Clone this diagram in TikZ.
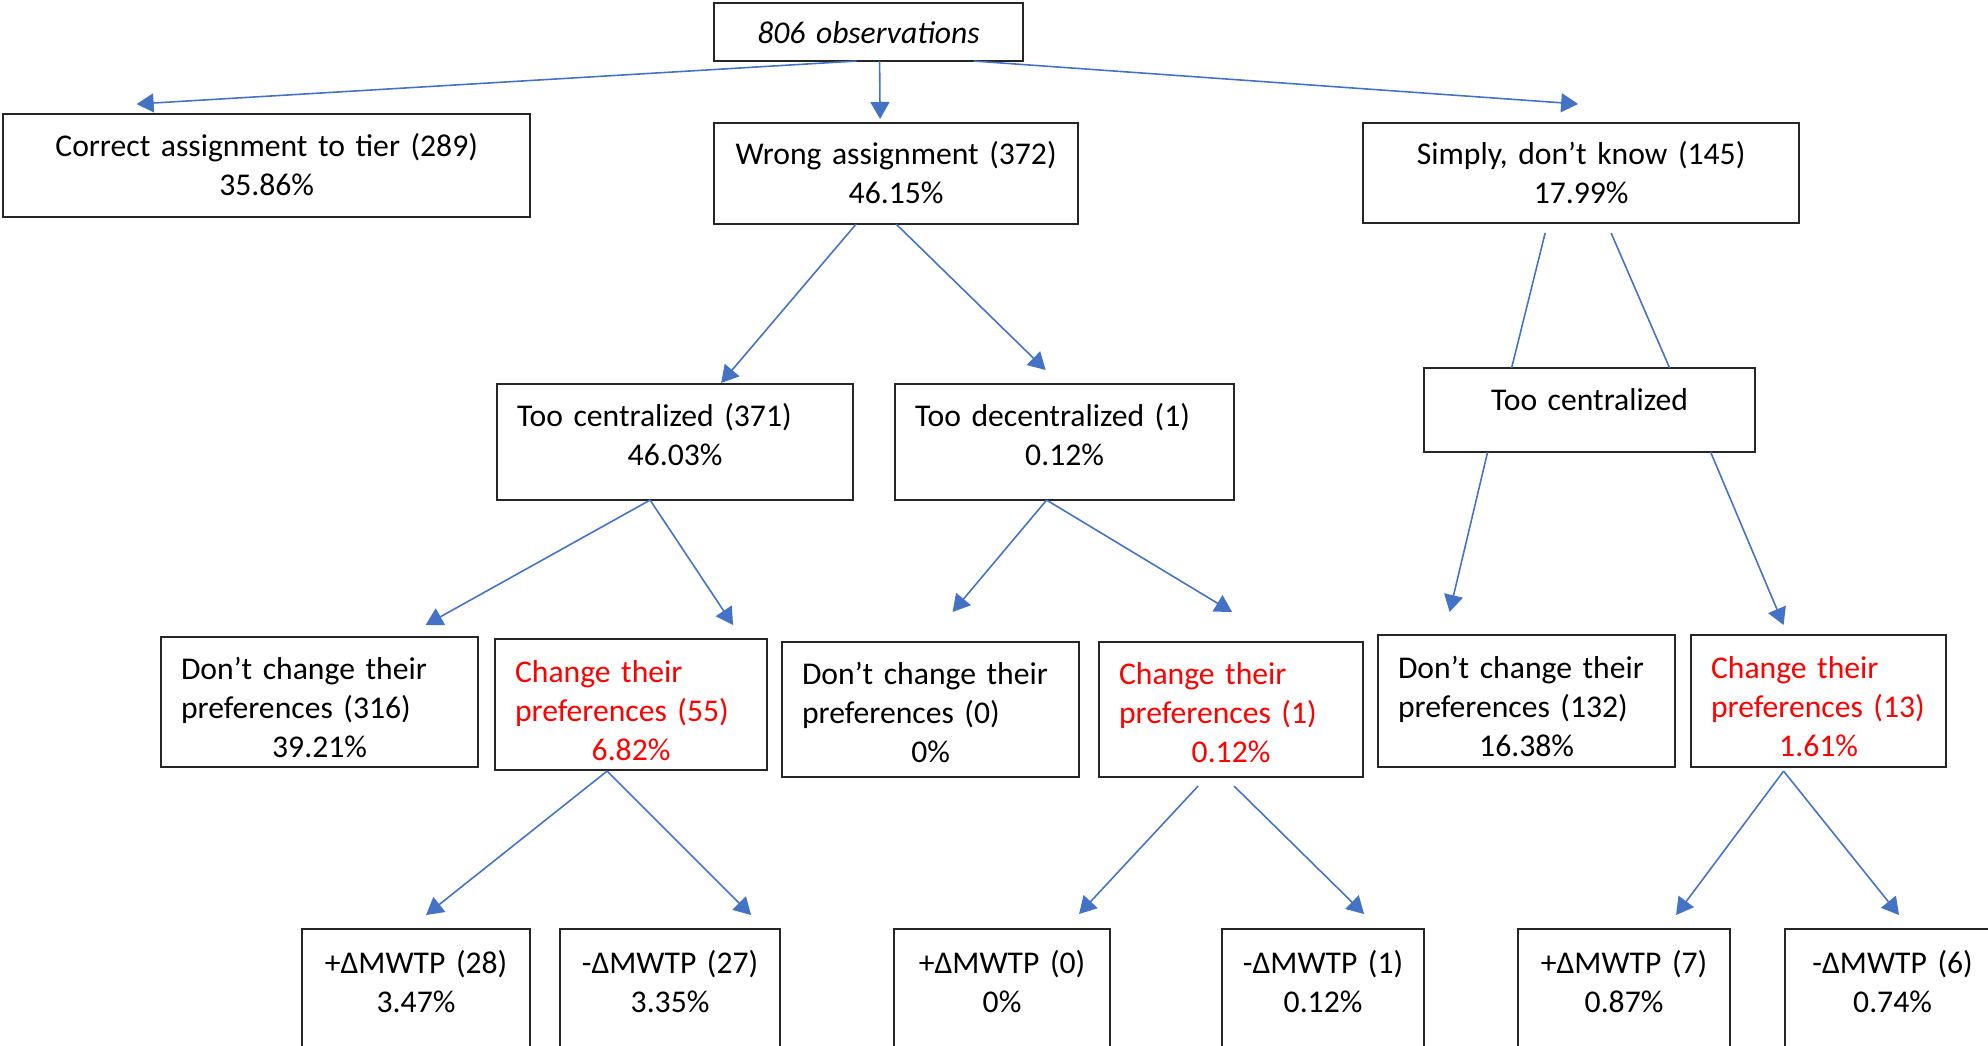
\documentclass[tikz,border=0pt]{standalone}
\usepackage{fontspec}
\setmainfont{Carlito}
\usetikzlibrary{arrows.meta,calc}
\definecolor{arrowblue}{RGB}{68,114,196}
\newcommand{\ctrline}[1]{\makebox[\linewidth]{#1}}

\begin{document}
\begin{tikzpicture}[x=0.01cm,y=-0.01cm,
    box/.style={draw=black!85, line width=0.6pt, rectangle, anchor=north west,
      inner xsep=0.2cm, inner ysep=0pt, outer sep=0pt, align=center,
      font=\fontsize{9}{11.1}\selectfont},
    leaf/.style={box, text height=0.44cm, text depth=1.4cm},
    arr/.style={color=arrowblue, line width=0.45pt, -{Triangle[length=0.17cm,width=0.19cm]}},
    link/.style={color=arrowblue, line width=0.45pt}]
  \clip (0,0) rectangle (1988,1045);

  % first level
  \node[box, text width=2.69cm, text height=0.40cm, text depth=0.18cm] (obs) at (714,3) {\textit{806 observations}};
  \node[box, text width=4.87cm, text height=0.42cm, text depth=0.61cm] (correct) at (3,114) {Correct assignment to tier (289)\\35.86\%};
  \node[box, text width=3.24cm, text height=0.41cm, text depth=0.60cm] (wrong) at (714,123) {Wrong assignment (372)\\46.15\%};
  \node[box, text width=3.96cm, text height=0.41cm, text depth=0.59cm] (simply) at (1363,123) {Simply, don’t know (145)\\17.99\%};

  % second level
  \node[box, align=left, text width=3.16cm, text height=0.42cm, text depth=0.74cm] (toocent) at (497,384) {Too centralized (371)\\\ctrline{46.03\%}};
  \node[box, align=left, text width=2.99cm, text height=0.42cm, text depth=0.74cm] (toodec) at (895,384) {Too decentralized (1)\\\ctrline{0.12\%}};
  \node[box, text width=2.91cm, text height=0.42cm, text depth=0.42cm] (toocentsdk) at (1424,368) {Too centralized};

  % third level
  \node[box, align=left, text width=2.77cm, text height=0.42cm, text depth=0.88cm] (dont1) at (161,637) {Don’t change their\\preferences (316)\\\ctrline{39.21\%}};
  \node[box, align=left, text width=2.32cm, text height=0.43cm, text depth=0.88cm, text=red] (change1) at (495,639) {Change their\\preferences (55)\\\ctrline{6.82\%}};
  \node[box, align=left, text width=2.57cm, text height=0.42cm, text depth=0.93cm] (dont2) at (782,642) {Don’t change their\\preferences (0)\\\ctrline{0\%}};
  \node[box, align=left, text width=2.24cm, text height=0.42cm, text depth=0.93cm, text=red] (change2) at (1099,642) {Change their\\preferences (1)\\\ctrline{0.12\%}};
  \node[box, align=left, text width=2.57cm, text height=0.43cm, text depth=0.89cm] (dont3) at (1378,635) {Don’t change their\\preferences (132)\\\ctrline{16.38\%}};
  \node[box, align=left, text width=2.15cm, text height=0.43cm, text depth=0.89cm, text=red] (change3) at (1691,635) {Change their\\preferences (13)\\\ctrline{1.61\%}};

  % last level
  \node[leaf, text width=1.88cm] (p28) at (302,929) {+ΔMWTP (28)\\3.47\%};
  \node[leaf, text width=1.80cm] (m27) at (560,929) {-ΔMWTP (27)\\3.35\%};
  \node[leaf, text width=1.76cm] (p0) at (894,929) {+ΔMWTP (0)\\0\%};
  \node[leaf, text width=1.62cm] (m1) at (1222,929) {-ΔMWTP (1)\\0.12\%};
  \node[leaf, text width=1.72cm] (p7) at (1518,929) {+ΔMWTP (7)\\0.87\%};
  \node[leaf, text width=1.75cm] (m6) at (1785,929) {-ΔMWTP (6)\\0.74\%};

  \path[arr]
  ($(obs.south)+(-12,0)$)       edge ($(correct.north)+(-130,-10)$)
  ($(obs.south)+(11,0)$)        edge ($(wrong.north)+(-16,-4)$)
  ($(obs.south)+(105,0)$)       edge ($(simply.north)+(-3,-19)$)
  ($(wrong.south)+(-40,0)$)     edge ($(toocent.north)+(46,-1)$)
  (wrong.south)                 edge ($(toodec.north)+(-19,-14)$)
  ($(toocent.south)+(-25,0)$)   edge ($(dont1.north)+(106,-12)$)
  ($(toocent.south)+(-25,0)$)   edge ($(change1.north)+(102,-14)$)
  ($(toodec.south)+(-18,0)$)    edge ($(dont2.north)+(22,-30)$)
  ($(toodec.south)+(-18,0)$)    edge ($(change2.north)+(1,-30)$)
  ($(toocentsdk.south)+(-102,0)$) edge ($(dont3.north)+(-77,-23)$)
  ($(toocentsdk.south)+(121,0)$)  edge ($(change3.north)+(-35,-10)$)
  ($(change1.south)+(-24,1)$)   edge ($(p28.north)+(10,-14)$)
  ($(change1.south)+(-24,1)$)   edge ($(m27.north)+(81,-14)$)
  ($(change2.south)+(-33,9)$)   edge ($(p0.north)+(77,-15)$)
  ($(change2.south)+(3,9)$)     edge ($(m1.north)+(41,-15)$)
  ($(change3.south)+(-35,4)$)   edge ($(p7.north)+(52,-14)$)
  ($(change3.south)+(-35,4)$)   edge ($(m6.north west)+(114,-14)$);

  % no arrow heads here
  \path[link]
  ($(simply.south)+(-36,10)$) edge ($(toocentsdk.north)+(-78,0)$)
  ($(simply.south)+(30,10)$)  edge ($(toocentsdk.north)+(80,0)$);
\end{tikzpicture}
\end{document}
